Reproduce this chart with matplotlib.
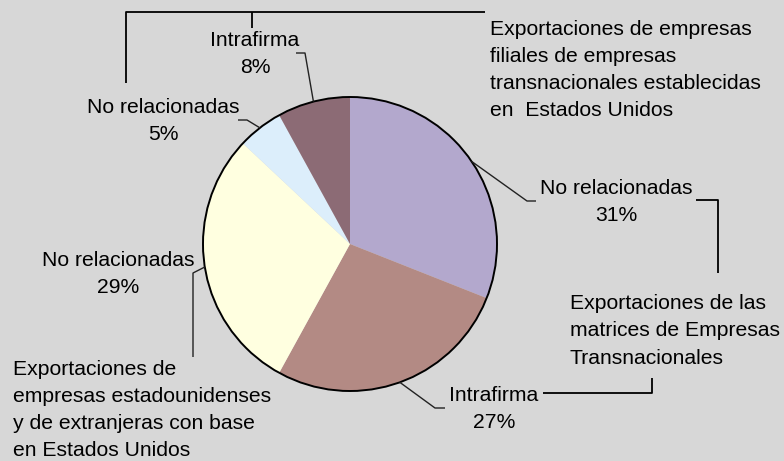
import numpy as np
import matplotlib.pyplot as plt

# slice data, clockwise from 12 o'clock
labels = ['No relacionadas', 'Intrafirma', 'No relacionadas', 'No relacionadas', 'Intrafirma']
values = [31, 27, 29, 5, 8]
colors = ['#B3A8CD', '#B38A84', '#FFFFE0', '#DCEEFB', '#8C6B75']

group_texts = [
    'Exportaciones de empresas\nfiliales de empresas\ntransnacionales establecidas\nen  Estados Unidos',
    'Exportaciones de las\nmatrices de Empresas\nTransnacionales',
    'Exportaciones de\nempresas estadounidenses\ny de extranjeras con base\nen Estados Unidos',
]

W, H = 784, 461
BG = '#D7D7D7'
plt.rcParams['font.family'] = ['Liberation Sans', 'DejaVu Sans']
FS = 15.2
LS = 1.54


def py(y):
    # pixel row -> data y (y up)
    return H - y


fig = plt.figure(figsize=(W / 100, H / 100), dpi=100, facecolor=BG)
ax = fig.add_axes([0, 0, 1, 1])
ax.set_facecolor(BG)

cx, cy, r = 350, py(244), 147
wedges, _ = ax.pie(values, colors=colors, startangle=90, counterclock=False,
                   center=(cx, cy), radius=r, wedgeprops=dict(linewidth=0),
                   frame=True)
ax.add_patch(plt.Circle((cx, cy), r, fill=False, ec='black', lw=1.4))
ax.set_xlim(0, W)
ax.set_ylim(0, H)
ax.axis('off')


def edge_point(w):
    ang = np.deg2rad((w.theta1 + w.theta2) / 2)
    return cx + r * np.cos(ang), cy + r * np.sin(ang)


# label centre, leader elbow points (pixel coords)
label_pos = [(616, 202), (494, 409), (118, 274), (163, 121), (255, 54)]
elbows = [
    [(527, 201), (536, 201)],
    [(435, 408), (445, 408)],
    [(193, 273), (193, 357)],
    [(247, 120), (238, 120)],
    [(305, 53), (296, 53)],
]

for w, lab, v, pos, elb in zip(wedges, labels, values, label_pos, elbows):
    x0, y0 = edge_point(w)
    xs = [x0] + [p[0] for p in elb]
    ys = [y0] + [py(p[1]) for p in elb]
    ax.plot(xs, ys, color='#222222', lw=1.0, solid_capstyle='butt')
    ax.text(pos[0], py(pos[1]), '{}\n{}%'.format(lab, v), ha='center', va='center',
            fontsize=FS, color='black', linespacing=LS)

# brackets tying groups together
brackets = [
    [(126, 83), (126, 12), (485, 12)],
    [(252, 12), (252, 28)],
    [(696, 200), (718, 200), (718, 273)],
    [(543, 393), (652, 393), (652, 378)],
]
for b in brackets:
    ax.plot([p[0] for p in b], [py(p[1]) for p in b], color='black', lw=1.3,
            solid_capstyle='butt')

group_pos = [(490, 70), (570, 331), (13, 410)]
for t, pos in zip(group_texts, group_pos):
    ax.text(pos[0], py(pos[1]), t, ha='left', va='center', fontsize=FS,
            color='black', linespacing=LS)

fig.savefig('out.png', dpi=100, facecolor=BG)
